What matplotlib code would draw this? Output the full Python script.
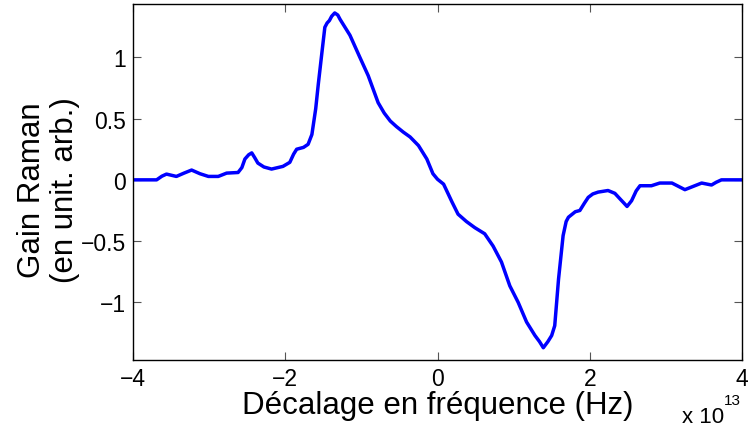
import matplotlib
matplotlib.use("Agg")
import matplotlib.pyplot as plt
from matplotlib.ticker import FixedLocator, FuncFormatter

plt.rcParams['font.family'] = ['Liberation Sans', 'DejaVu Sans']

# Frequency shift in units of 1e13 Hz, Raman gain in arbitrary units
freq_shift = [-4.00, -3.69, -3.62, -3.56, -3.43, -3.33, -3.23, -3.12, -3.01, -2.88,
              -2.77, -2.62, -2.57, -2.53, -2.48, -2.44, -2.40, -2.36, -2.28, -2.18,
              -2.03, -1.94, -1.89, -1.85, -1.76, -1.70, -1.65, -1.60, -1.566, -1.52,
              -1.48, -1.45, -1.42, -1.39, -1.35, -1.31, -1.28, -1.15,
              -1.02, -0.91, -0.78, -0.70, -0.62, -0.54, -0.45, -0.36, -0.25, -0.14, -0.06,
              0.0, 0.08, 0.19, 0.27, 0.38, 0.49, 0.62, 0.73, 0.84, 0.95,
              1.06, 1.17, 1.28, 1.34, 1.39, 1.45, 1.50, 1.54, 1.59, 1.65, 1.69, 1.72, 1.81,
              1.87, 1.93, 1.98, 2.04, 2.11, 2.24, 2.33, 2.40, 2.45, 2.49, 2.55, 2.61, 2.66, 2.81, 2.92,
              3.08, 3.25, 3.47, 3.60, 3.66, 3.73, 4.00]
raman_gain = [0.0, 0.0, 0.03, 0.047, 0.028, 0.055, 0.08, 0.05, 0.028, 0.028,
              0.055, 0.06, 0.10, 0.17, 0.205, 0.22, 0.18, 0.137, 0.105, 0.088,
              0.11, 0.143, 0.21, 0.25, 0.265, 0.29, 0.37, 0.58, 0.78, 1.03,
              1.245, 1.28, 1.30, 1.335, 1.362, 1.345, 1.31, 1.18,
              1.0, 0.85, 0.63, 0.545, 0.48, 0.435, 0.39, 0.35, 0.28, 0.17, 0.05,
              0.005, -0.035, -0.18, -0.28, -0.34, -0.39, -0.44, -0.54, -0.67, -0.865,
              -1.0, -1.16, -1.27, -1.32, -1.37, -1.32, -1.27, -1.19, -0.81, -0.455, -0.34, -0.305, -0.26,
              -0.25, -0.19, -0.143, -0.115, -0.10, -0.087, -0.11, -0.157, -0.19, -0.217, -0.17, -0.09, -0.048, -0.048, -0.026,
              -0.026, -0.08, -0.026, -0.042, -0.02, 0.0, 0.0]

x_ticks = [-4, -2, 0, 2, 4]
y_ticks = [-1, -0.5, 0, 0.5, 1]

fig = plt.figure(figsize=(7.49, 4.27), dpi=100)
ax = fig.add_axes([133 / 749, 66 / 427, 609 / 749, 356 / 427])

ax.plot(freq_shift, raman_gain, color='#0000ff', linewidth=2.5,
        solid_joinstyle='round', solid_capstyle='round')

ax.set_xlim(-4, 4)
ax.set_ylim(-1.47, 1.435)
ax.xaxis.set_major_locator(FixedLocator(x_ticks))
ax.yaxis.set_major_locator(FixedLocator(y_ticks))
fmt = FuncFormatter(lambda v, p: ('%g' % v).replace('-', '\u2212'))
ax.xaxis.set_major_formatter(fmt)
ax.yaxis.set_major_formatter(fmt)

ax.tick_params(direction='in', length=6, width=0.8, color='#555555',
               labelsize=16.5, top=True, right=True, pad=5)
for s in ax.spines.values():
    s.set_linewidth(1.0)
    s.set_color('black')

ax.set_xlabel('Décalage en fréquence (Hz)', fontsize=22.5, labelpad=0)
ax.set_ylabel('Gain Raman\n(en unit. arb.)', fontsize=22.5, labelpad=0,
              linespacing=1.15)
ax.yaxis.set_label_coords(-53 / 609, 0.48)

# Scale factor of the x axis
fig.text(682 / 749, 1 - 423 / 427, 'x 10', fontsize=16, ha='left', va='baseline')
fig.text(724 / 749, 1 - 405 / 427, '13', fontsize=11, ha='left', va='baseline')

fig.savefig('out.png', dpi=100)
